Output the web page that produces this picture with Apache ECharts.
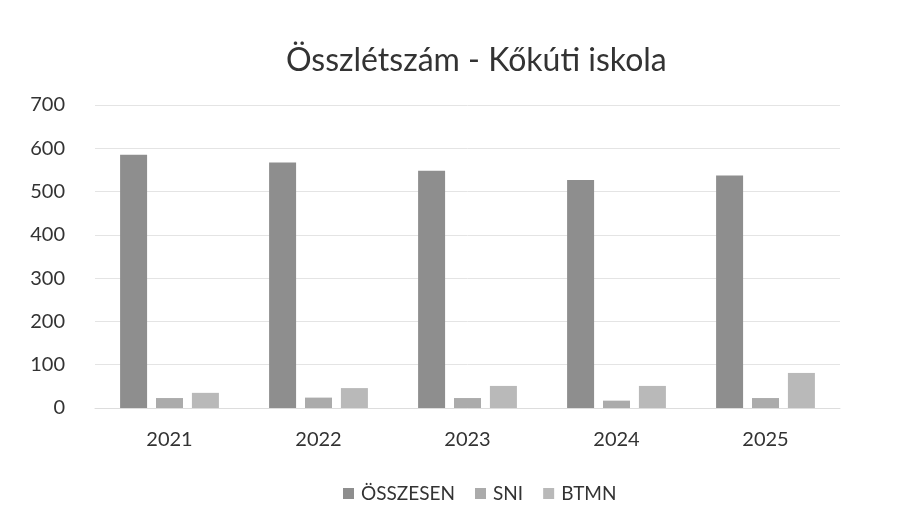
<!DOCTYPE html>
<html>
<head>
<meta charset="utf-8">
<script src="https://cdn.jsdelivr.net/npm/echarts@6/dist/echarts.min.js"></script>
<style>
html, body { margin: 0; padding: 0; background: #fff; }
#main { width: 923px; height: 522px; }
</style>
</head>
<body>
<div id="main"></div>
<script>
var years = ['2021', '2022', '2023', '2024', '2025']
var osszesen = [585, 567, 548, 527, 537]
var sni = [23, 24, 23, 17, 23]
var btmn = [35, 46, 51, 51, 81]

var font = 'Lato, "Open Sans", sans-serif'
var chart = echarts.init(document.getElementById('main'))

var option = {
    backgroundColor: '#fff',
    title: {
        text: 'Összlétszám - Kőkúti iskola',
        left: 281,
        top: 40,
        textStyle: { fontFamily: font, fontSize: 32, fontWeight: 'normal', color: '#333' }
    },
    legend: {
        top: 479,
        left: 338,
        itemWidth: 11,
        itemHeight: 11,
        itemGap: 20,
        icon: 'rect',
        textStyle: { fontFamily: font, fontSize: 19, color: '#333', padding: [0, 0, 0, 2] },
        data: ['ÖSSZESEN', 'SNI', 'BTMN']
    },
    grid: { left: 95, right: 83, top: 105, bottom: 114, containLabel: false },
    xAxis: {
        type: 'category',
        data: years,
        axisLine: { lineStyle: { color: '#ddd' } },
        axisTick: { show: false },
        axisLabel: { fontFamily: font, fontSize: 20, color: '#333', margin: 22 }
    },
    yAxis: {
        type: 'value',
        min: 0,
        max: 700,
        interval: 100,
        axisLine: { show: false },
        axisTick: { show: false },
        splitLine: { lineStyle: { color: '#e4e4e4' } },
        axisLabel: { fontFamily: font, fontSize: 20, color: '#333', margin: 30 }
    },
    series: [
        { name: 'ÖSSZESEN', type: 'bar', data: osszesen, barWidth: 27, barGap: '33%', barCategoryGap: '33%', itemStyle: { color: '#8e8e8e' } },
        { name: 'SNI', type: 'bar', data: sni, barWidth: 27, itemStyle: { color: '#ababab' } },
        { name: 'BTMN', type: 'bar', data: btmn, barWidth: 27, itemStyle: { color: '#b9b9b9' } }
    ]
}
chart.setOption(option)
</script>
</body>
</html>
